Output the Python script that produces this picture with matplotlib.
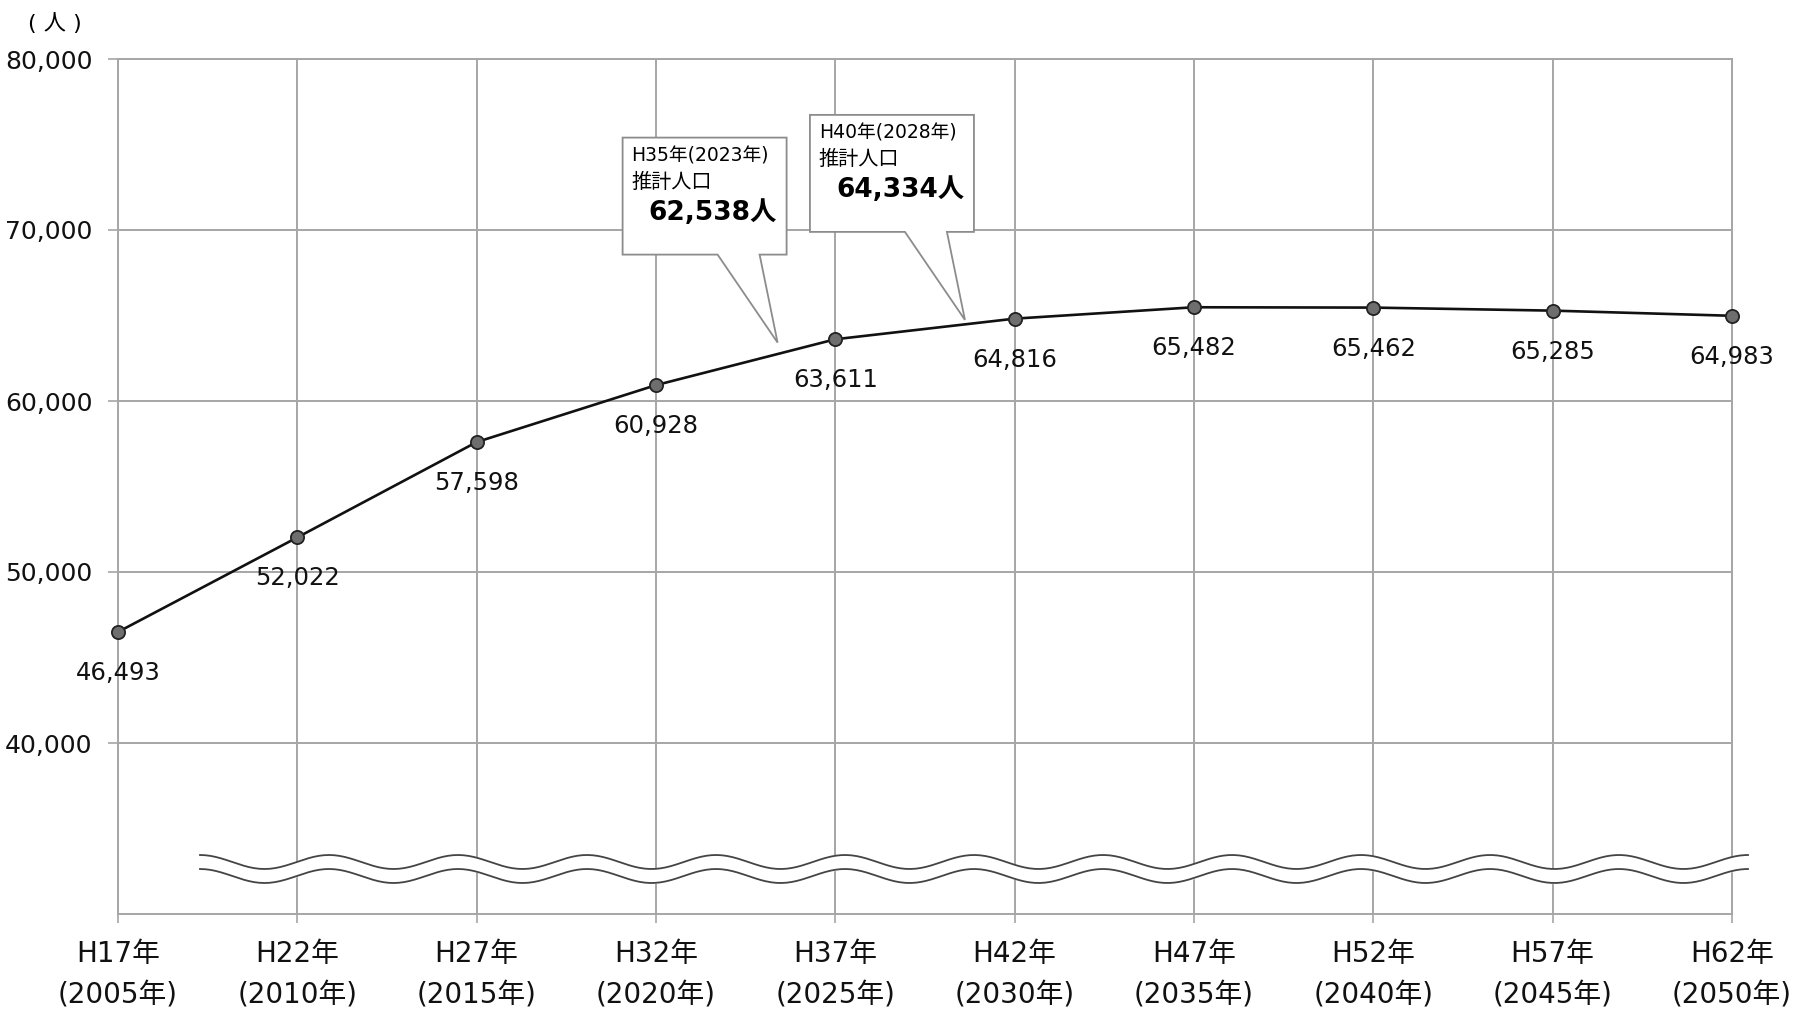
import matplotlib

matplotlib.use("Agg")

import matplotlib.pyplot as plt
import numpy as np
from matplotlib.patches import Polygon
from matplotlib.transforms import IdentityTransform

# DejaVu for Latin/digits, Noto CJK picks up the kanji
plt.rcParams["font.family"] = ["DejaVu Sans", "Noto Sans CJK JP"]

# Projected population, every 5 years
years = [2005, 2010, 2015, 2020, 2025, 2030, 2035, 2040, 2045, 2050]
era_labels = ["H17年", "H22年", "H27年", "H32年", "H37年",
              "H42年", "H47年", "H52年", "H57年", "H62年"]
year_labels = ["(2005年)", "(2010年)", "(2015年)", "(2020年)", "(2025年)",
               "(2030年)", "(2035年)", "(2040年)", "(2045年)", "(2050年)"]
population = [46493, 52022, 57598, 60928, 63611, 64816, 65482, 65462, 65285, 64983]
y_ticks = [40000, 50000, 60000, 70000, 80000]

# Intermediate-year estimates shown in callouts
callout_years = [2023, 2028]
callout_values = [62538, 64334]
callout_heads = ["H35年(2023年)", "H40年(2028年)"]

GRID = "#a6a6a6"
W, H, DPI = 1797, 1016, 100

fig = plt.figure(figsize=(W / DPI, H / DPI), dpi=DPI)
ax = fig.add_axes([118 / W, 1 - 914 / H, (1732 - 118) / W, (914 - 59) / H])
ax.set_xlim(2005, 2050)
ax.set_ylim(30000, 80000)

ax.set_yticks(y_ticks)
ax.set_yticklabels([f"{v:,}" for v in y_ticks])
ax.set_xticks(years)
ax.set_xticklabels([f"{e}\n{y}" for e, y in zip(era_labels, year_labels)],
                   linespacing=1.55)
ax.tick_params(axis="y", length=7.2, width=1.2, color=GRID, pad=11,
               labelsize=18, labelcolor="#111111")
ax.tick_params(axis="x", length=6.5, width=1.2, color=GRID, pad=12.5,
               labelsize=20, labelcolor="#111111")
ax.grid(True, color=GRID, linewidth=1.4)
ax.set_axisbelow(True)
for spine in ax.spines.values():
    spine.set_color(GRID)
    spine.set_linewidth(1.4)

ax.plot(years, population, color="#111111", linewidth=1.9, marker="o",
        markersize=9.5, markerfacecolor="#6e6e6e", markeredgecolor="#222222",
        markeredgewidth=1.3, zorder=5, clip_on=False)

for x, v in zip(years, population):
    ax.annotate(f"{v:,}", (x, v), xytext=(0, -29.5), textcoords="offset points",
                ha="center", va="center", fontsize=17.5, color="#111111",
                annotation_clip=False)

fig.text(55 / W, 1 - 24 / H, "( 人 )", ha="center", va="center", fontsize=16)

# axis break (double wavy line) near the bottom of the plot
ident = IdentityTransform()
wx = np.linspace(200, 1748, 600)
wave = 7 * np.cos(2 * np.pi * (wx - 200) / 129)
upper = (H - 862) + wave
lower = (H - 876) + wave
ax.fill_between(wx, lower, upper, color="white", transform=ident, zorder=3)
ax.plot(wx, upper, color="#444444", linewidth=1.3, transform=ident, zorder=4,
        clip_on=False)
ax.plot(wx, lower, color="#444444", linewidth=1.3, transform=ident, zorder=4,
        clip_on=False)

# speech-bubble callouts
tip_offsets = [(14, 15), (22, 7)]
for yr, val, head, (ox, oy) in zip(callout_years, callout_values,
                                   callout_heads, tip_offsets):
    px, py = ax.transData.transform((yr, val))
    tx, ty = px + ox, py + oy
    shape = [(tx - 155, ty + 205), (tx + 9, ty + 205), (tx + 9, ty + 88),
             (tx - 18, ty + 88), (tx, ty), (tx - 60, ty + 88),
             (tx - 155, ty + 88)]
    ax.add_patch(Polygon(shape, closed=True, facecolor="white",
                         edgecolor="#8c8c8c", linewidth=1.3, transform=ident,
                         zorder=6, clip_on=False))
    ax.text(tx - 146, ty + 187, head, transform=ident, fontsize=13.5,
            ha="left", va="center", zorder=7)
    ax.text(tx - 146, ty + 160, "推計人口", transform=ident, fontsize=14.5,
            ha="left", va="center", zorder=7)
    ax.text(tx - 129, ty + 130, f"{val:,}人", transform=ident, fontsize=19,
            fontweight="bold", ha="left", va="center", zorder=7)

fig.savefig("out.png", dpi=DPI)
